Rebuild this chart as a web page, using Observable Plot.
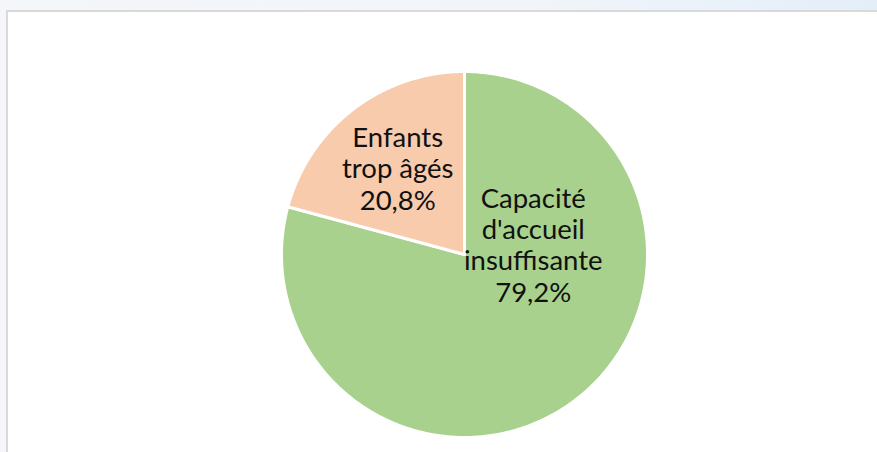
<!DOCTYPE html>
<html><head><meta charset="utf-8">
<script src="https://cdn.jsdelivr.net/npm/d3@7"></script>
<script src="https://cdn.jsdelivr.net/npm/@observablehq/plot@0.6"></script>
<style>
html,body{margin:0;padding:0;}
body{width:877px;height:452px;overflow:hidden;position:relative;background:linear-gradient(90deg,#f4f6f9,#f1f5fa 60%,#e4eef9);}
#frame{position:absolute;left:6px;top:10px;right:0;bottom:0;background:#fff;border-top:2px solid #d9d9d9;border-left:2px solid #d9d9d9;}
#chart{position:absolute;left:0;top:0;}
</style></head><body><div id="frame"></div><div id="chart"></div>
<script>
const categories = ["Capacité d'accueil insuffisante", "Enfants trop âgés"];
const labels = ["Capacité\nd'accueil\ninsuffisante\n79,2%", "Enfants\ntrop âgés\n20,8%"];
const values = [79.2, 20.8];
const colors = ["#a9d18e", "#f8cbad"];

const arcs = d3.pie().sort(null).value(d => d)(values);
const slices = arcs.flatMap((a, i) => {
  const pts = [{k: i, x: 0, y: 0}];
  const n = 240;
  for (let j = 0; j <= n; j++) {
    const t = a.startAngle + (a.endAngle - a.startAngle) * j / n;
    pts.push({k: i, x: Math.sin(t), y: Math.cos(t)});
  }
  pts.push({k: i, x: 0, y: 0});
  return pts;
});
const labelData = arcs.map((a, i) => {
  const m = (a.startAngle + a.endAngle) / 2;
  return {k: i, label: labels[i], x: 0.6 * Math.sin(m), y: 0.6 * Math.cos(m)};
});

const font = {fontSize: 27.5, lineHeight: 1.14, fill: "#111", fontFamily: "Lato"};
const chart = Plot.plot({
  width: 877, height: 452,
  marginLeft: 281, marginRight: 230, marginTop: 71, marginBottom: 15,
  x: {domain: [-1, 1], axis: null},
  y: {domain: [-1, 1], axis: null},
  color: {type: "ordinal", domain: [0, 1], range: colors},
  style: {background: "transparent", overflow: "visible"},
  marks: [
    Plot.line(slices, {x: "x", y: "y", z: "k", fill: "k", stroke: "white", strokeWidth: 3, strokeLinejoin: "round", curve: "linear"}),
    Plot.text(labelData.filter(d => d.k === 0), {x: "x", y: "y", text: "label", dx: 2, dy: -97, ...font}),
    Plot.text(labelData.filter(d => d.k === 1), {x: "x", y: "y", text: "label", dy: 1, ...font})
  ]
});
document.getElementById("chart").appendChild(chart);
</script></body></html>
